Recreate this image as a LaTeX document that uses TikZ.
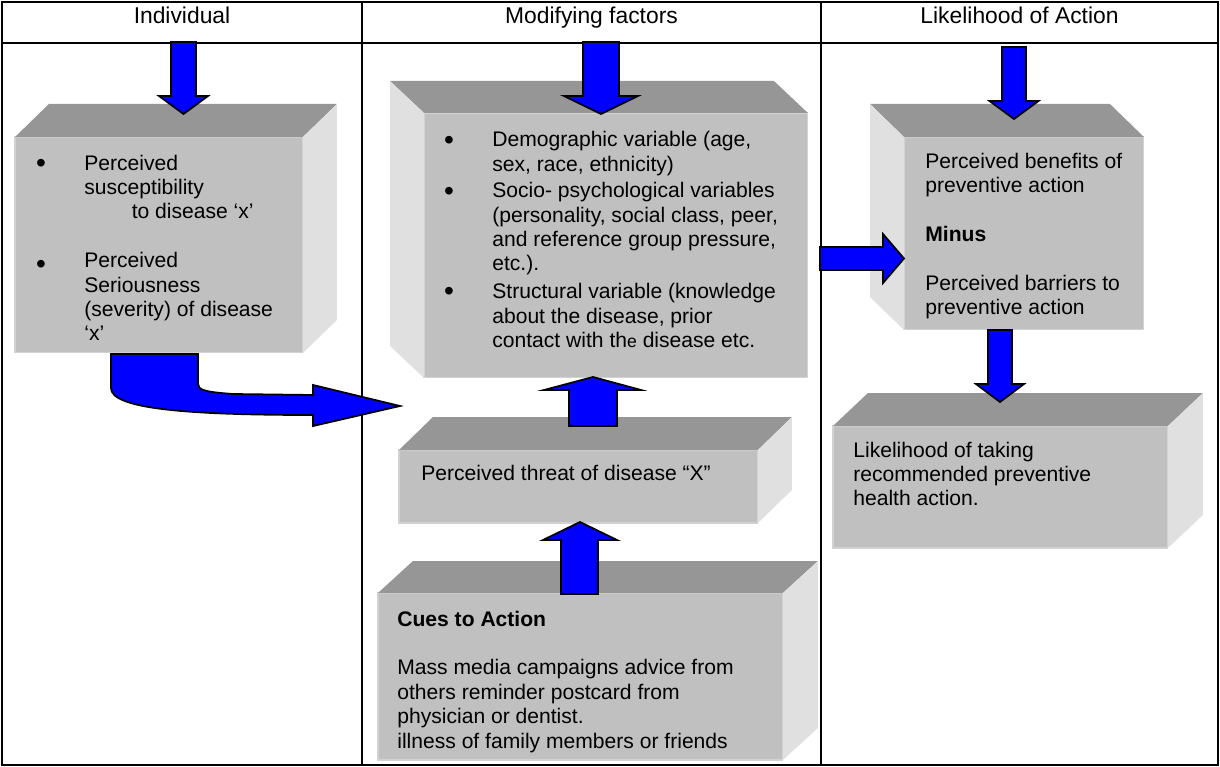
\documentclass[tikz,border=0pt]{standalone}
\usepackage{fontspec}
\setmainfont{Liberation Sans}
\usetikzlibrary{shapes}

\definecolor{topgray}{RGB}{150,150,150}
\definecolor{frontgray}{RGB}{192,192,192}
\definecolor{sidegray}{RGB}{224,224,224}
\definecolor{edgegray}{RGB}{210,210,210}
\definecolor{arrowblue}{RGB}{0,0,255}

\tikzset{
  front/.style={draw=edgegray, line width=0.6pt, fill=frontgray, inner sep=0pt, outer sep=0pt, anchor=north west},
  topface/.style={fill=topgray},
  sideface/.style={fill=sidegray},
  barrow/.style={fill=arrowblue, draw=black, line width=1pt, line join=miter},
  grid/.style={line width=1.1pt},
  txt/.style={inner sep=0pt, anchor=base west, font=\fontsize{12}{13.9}\selectfont},
  dot/.style={inner sep=0pt, anchor=base, font=\fontsize{16}{16}\selectfont},
  head/.style={inner sep=0pt, anchor=base, font=\fontsize{13}{15}\selectfont}
}

\begin{document}
\begin{tikzpicture}[x=0.02cm, y=-0.02cm]
\useasboundingbox (0,0) rectangle (1220,767);
\draw[grid](2,2) rectangle (1218,765);
\draw[grid](2,43) -- (1218,43);
\draw[grid](362,2) -- (362,765);
\draw[grid](821,2) -- (821,765);
\node[head] (hind) at (182,24) {Individual};
\node[head] (hmod) at (591.5,24) {Modifying factors};
\node[head] (hlik) at (1019.5,24) {Likelihood of Action};

\node[front, minimum width=5.76cm, minimum height=4.32cm] (indiv) at (15,137) {};
\fill[topface](indiv.north west) -- (indiv.north east) -- ++(34,-33) -- ++(-288,0) -- cycle;
\fill[sideface](indiv.north east) -- (indiv.south east) -- ++(34,-33) -- ++(0,-216) -- cycle;
\node[front, minimum width=7.68cm, minimum height=5.3cm] (modif) at (424,113) {};
\fill[topface](modif.north west) -- (modif.north east) -- ++(-34,-32) -- ++(-384,0) -- cycle;
\fill[sideface](modif.north west) -- (modif.south west) -- ++(-34,-32) -- ++(0,-265) -- cycle;
\node[front, minimum width=4.8cm, minimum height=3.86cm] (benef) at (904,137) {};
\fill[topface](benef.north west) -- (benef.north east) -- ++(-34,-33) -- ++(-240,0) -- cycle;
\fill[sideface](benef.north west) -- (benef.south west) -- ++(-34,-33) -- ++(0,-193) -- cycle;
\node[front, minimum width=6.7cm, minimum height=2.44cm] (likely) at (833,426) {};
\fill[topface](likely.north west) -- (likely.north east) -- ++(35,-33) -- ++(-335,0) -- cycle;
\fill[sideface](likely.north east) -- (likely.south east) -- ++(35,-33) -- ++(0,-122) -- cycle;
\node[front, minimum width=7.18cm, minimum height=1.46cm] (threat) at (399,450) {};
\fill[topface](threat.north west) -- (threat.north east) -- ++(34,-33) -- ++(-359,0) -- cycle;
\fill[sideface](threat.north east) -- (threat.south east) -- ++(34,-33) -- ++(0,-73) -- cycle;
\node[front, minimum width=8.1cm, minimum height=3.34cm] (cues) at (378,593) {};
\fill[topface](cues.north west) -- (cues.north east) -- ++(35,-32) -- ++(-405,0) -- cycle;
\fill[sideface](cues.north east) -- (cues.south east) -- ++(35,-32) -- ++(0,-167) -- cycle;

\node[dot] (bind1) at (41,173) {•};
\node[dot] (bind2) at (41,273) {•};
\node[txt] (tind) at (84,170) {\begin{tabular}[t]{@{}l@{}}Perceived\\susceptibility\\\hspace{27pt}to disease ‘x’\\[13.9pt]Perceived\\Seriousness\\(severity) of disease\\‘x’\end{tabular}};
\node[dot] (bmod1) at (449,150) {•};
\node[dot] (bmod2) at (449,200) {•};
\node[dot] (bmod3) at (449,300) {•};
\node[txt] (tmod) at (492,147) {\begin{tabular}[t]{@{}l@{}}Demographic variable (age,\\sex, race, ethnicity)\\[1pt]Socio- psychological variables\\(personality, social class, peer,\\and reference group pressure,\\etc.).\\[2pt]Structural variable (knowledge\\about the disease, prior\\contact with th{\fontsize{10}{12}\selectfont e} disease etc.\end{tabular}};
\node[txt] (tben) at (925,168) {\begin{tabular}[t]{@{}l@{}}Perceived benefits of\\preventive action\\[13.9pt]\textbf{Minus}\\[13.9pt]Perceived barriers to\\preventive action\end{tabular}};
\node[txt] (tlik) at (853,457) {\begin{tabular}[t]{@{}l@{}}Likelihood of taking\\recommended preventive\\health action.\end{tabular}};
\node[txt] (tthr) at (421,480) {Perceived threat of disease “X”};
\node[txt] (tcue) at (397,626) {\begin{tabular}[t]{@{}l@{}}\textbf{Cues to Action}\\[13.9pt]Mass media campaigns advice from\\others reminder postcard from\\physician or dentist.\\illness of family members or friends\end{tabular}};

\draw[barrow](171,42) -- (171,96) -- (159,96) -- (183.5,114) -- (208,96) -- (196,96) -- (196,42) -- cycle;
\draw[barrow](583,42) -- (583,96) -- (564,96) -- (601,114) -- (638,96) -- (619,96) -- (619,42) -- cycle;
\draw[barrow](1002,47) -- (1002,101) -- (989.5,101) -- (1014,119) -- (1038.5,101) -- (1026,101) -- (1026,47) -- cycle;
\draw[barrow](820,247) -- (883,247) -- (883,234) -- (904,258.5) -- (883,283) -- (883,270) -- (820,270) -- cycle;
\draw[barrow](988,330) -- (988,384) -- (976,384) -- (1000,402) -- (1024,384) -- (1012,384) -- (1012,330) -- cycle;
\draw[barrow](569,426) -- (569,390) -- (544,390) -- (593,377) -- (641,390) -- (617,390) -- (617,426) -- cycle;
\draw[barrow](561,594) -- (561,540) -- (543,540) -- (580,522) -- (617,540) -- (598,540) -- (598,594) -- cycle;
\draw[barrow](111,354) -- (111,388) .. controls (111,408) and (180,415) .. (313,415) -- (313,426) -- (400,406) -- (313,385) -- (313,395) -- (233,394) .. controls (205,392) and (198,390) .. (198,384) -- (198,354) -- cycle;
\end{tikzpicture}
\end{document}
